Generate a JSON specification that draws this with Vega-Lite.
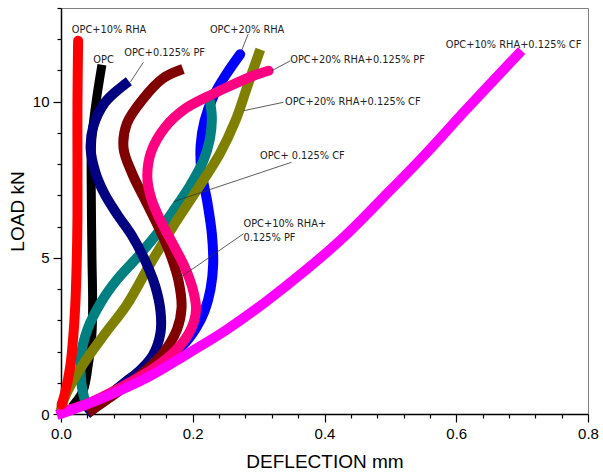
{
  "$schema": "https://vega.github.io/schema/vega-lite/v6.json",
  "width": 527,
  "height": 406,
  "autosize": "none",
  "padding": {"left": 61, "top": 8, "right": 15, "bottom": 60},
  "background": "white",
  "config": {
    "view": {"stroke": "#808080", "strokeWidth": 1},
    "axis": {
      "grid": false,
      "domainColor": "black",
      "domainWidth": 1.5,
      "tickColor": "black",
      "tickWidth": 1.2,
      "labelColor": "black",
      "titleColor": "black",
      "labelFont": "Liberation Sans",
      "titleFont": "Liberation Sans",
      "labelFontSize": 15,
      "titleFontSize": 19,
      "titleFontWeight": "normal",
      "labelOverlap": false,
      "labelFlush": false
    }
  },
  "datasets": {
    "curves": [
      {"s": "b", "i": 0, "x": 0.047, "y": 0.13},
      {"s": "b", "i": 1, "x": 0.075, "y": 0.62},
      {"s": "b", "i": 2, "x": 0.11, "y": 1.1},
      {"s": "b", "i": 3, "x": 0.15, "y": 1.65},
      {"s": "b", "i": 4, "x": 0.185, "y": 2.2},
      {"s": "b", "i": 5, "x": 0.205, "y": 2.75},
      {"s": "b", "i": 6, "x": 0.218, "y": 3.3},
      {"s": "b", "i": 7, "x": 0.227, "y": 4.0},
      {"s": "b", "i": 8, "x": 0.231, "y": 4.8},
      {"s": "b", "i": 9, "x": 0.229, "y": 5.77},
      {"s": "b", "i": 10, "x": 0.222, "y": 6.8},
      {"s": "b", "i": 11, "x": 0.213, "y": 7.8},
      {"s": "b", "i": 12, "x": 0.212, "y": 8.6},
      {"s": "b", "i": 13, "x": 0.218, "y": 9.4},
      {"s": "b", "i": 14, "x": 0.232, "y": 10.2},
      {"s": "b", "i": 15, "x": 0.25, "y": 10.85},
      {"s": "b", "i": 16, "x": 0.272, "y": 11.52},

      {"s": "k", "i": 0, "x": 0.021, "y": 0.34},
      {"s": "k", "i": 1, "x": 0.034, "y": 0.77},
      {"s": "k", "i": 2, "x": 0.041, "y": 1.51},
      {"s": "k", "i": 3, "x": 0.047, "y": 2.58},
      {"s": "k", "i": 4, "x": 0.048, "y": 3.6},
      {"s": "k", "i": 5, "x": 0.047, "y": 5},
      {"s": "k", "i": 6, "x": 0.046, "y": 7},
      {"s": "k", "i": 7, "x": 0.046, "y": 8.5},
      {"s": "k", "i": 8, "x": 0.048, "y": 9.1},
      {"s": "k", "i": 9, "x": 0.054, "y": 10.1},
      {"s": "k", "i": 10, "x": 0.061, "y": 11.04},

      {"s": "t", "i": 0, "x": 0.036, "y": 0.45},
      {"s": "t", "i": 1, "x": 0.031, "y": 0.98},
      {"s": "t", "i": 2, "x": 0.03, "y": 1.83},
      {"s": "t", "i": 3, "x": 0.04, "y": 2.7},
      {"s": "t", "i": 4, "x": 0.06, "y": 3.55},
      {"s": "t", "i": 5, "x": 0.085, "y": 4.3},
      {"s": "t", "i": 6, "x": 0.115, "y": 5.0},
      {"s": "t", "i": 7, "x": 0.145, "y": 5.75},
      {"s": "t", "i": 8, "x": 0.172, "y": 6.55},
      {"s": "t", "i": 9, "x": 0.197, "y": 7.35},
      {"s": "t", "i": 10, "x": 0.216, "y": 8.1},
      {"s": "t", "i": 11, "x": 0.226, "y": 8.8},
      {"s": "t", "i": 12, "x": 0.229, "y": 9.5},
      {"s": "t", "i": 13, "x": 0.226, "y": 10.03},

      {"s": "o", "i": 0, "x": 0.001, "y": 0.23},
      {"s": "o", "i": 1, "x": 0.006, "y": 0.55},
      {"s": "o", "i": 2, "x": 0.031, "y": 1.51},
      {"s": "o", "i": 3, "x": 0.066, "y": 2.55},
      {"s": "o", "i": 4, "x": 0.1, "y": 3.5},
      {"s": "o", "i": 5, "x": 0.134, "y": 4.75},
      {"s": "o", "i": 6, "x": 0.17, "y": 6.0},
      {"s": "o", "i": 7, "x": 0.206, "y": 7.16},
      {"s": "o", "i": 8, "x": 0.241, "y": 8.33},
      {"s": "o", "i": 9, "x": 0.265, "y": 9.4},
      {"s": "o", "i": 10, "x": 0.283, "y": 10.5},
      {"s": "o", "i": 11, "x": 0.3, "y": 11.52},

      {"s": "n", "i": 0, "x": 0.045, "y": 0.1},
      {"s": "n", "i": 1, "x": 0.07, "y": 0.55},
      {"s": "n", "i": 2, "x": 0.095, "y": 0.98},
      {"s": "n", "i": 3, "x": 0.12, "y": 1.4},
      {"s": "n", "i": 4, "x": 0.14, "y": 1.9},
      {"s": "n", "i": 5, "x": 0.151, "y": 2.6},
      {"s": "n", "i": 6, "x": 0.151, "y": 3.3},
      {"s": "n", "i": 7, "x": 0.143, "y": 4.1},
      {"s": "n", "i": 8, "x": 0.128, "y": 4.9},
      {"s": "n", "i": 9, "x": 0.108, "y": 5.7},
      {"s": "n", "i": 10, "x": 0.085, "y": 6.4},
      {"s": "n", "i": 11, "x": 0.066, "y": 7.05},
      {"s": "n", "i": 12, "x": 0.052, "y": 7.75},
      {"s": "n", "i": 13, "x": 0.045, "y": 8.5},
      {"s": "n", "i": 14, "x": 0.049, "y": 9.2},
      {"s": "n", "i": 15, "x": 0.067, "y": 9.98},
      {"s": "n", "i": 16, "x": 0.097, "y": 10.56},

      {"s": "m", "i": 0, "x": 0.047, "y": 0.13},
      {"s": "m", "i": 1, "x": 0.07, "y": 0.47},
      {"s": "m", "i": 2, "x": 0.117, "y": 1.19},
      {"s": "m", "i": 3, "x": 0.155, "y": 1.95},
      {"s": "m", "i": 4, "x": 0.176, "y": 2.7},
      {"s": "m", "i": 5, "x": 0.183, "y": 3.4},
      {"s": "m", "i": 6, "x": 0.179, "y": 4.2},
      {"s": "m", "i": 7, "x": 0.168, "y": 5.0},
      {"s": "m", "i": 8, "x": 0.15, "y": 5.9},
      {"s": "m", "i": 9, "x": 0.128, "y": 6.84},
      {"s": "m", "i": 10, "x": 0.108, "y": 7.7},
      {"s": "m", "i": 11, "x": 0.095, "y": 8.5},
      {"s": "m", "i": 12, "x": 0.1, "y": 9.3},
      {"s": "m", "i": 13, "x": 0.125, "y": 10.1},
      {"s": "m", "i": 14, "x": 0.155, "y": 10.75},
      {"s": "m", "i": 15, "x": 0.178, "y": 10.99},

      {"s": "p", "i": 0, "x": 0.001, "y": 0.07},
      {"s": "p", "i": 1, "x": 0.041, "y": 0.34},
      {"s": "p", "i": 2, "x": 0.092, "y": 0.87},
      {"s": "p", "i": 3, "x": 0.14, "y": 1.45},
      {"s": "p", "i": 4, "x": 0.175, "y": 2.05},
      {"s": "p", "i": 5, "x": 0.197, "y": 2.7},
      {"s": "p", "i": 6, "x": 0.205, "y": 3.35},
      {"s": "p", "i": 7, "x": 0.2, "y": 4.0},
      {"s": "p", "i": 8, "x": 0.188, "y": 4.7},
      {"s": "p", "i": 9, "x": 0.171, "y": 5.4},
      {"s": "p", "i": 10, "x": 0.152, "y": 6.15},
      {"s": "p", "i": 11, "x": 0.137, "y": 6.9},
      {"s": "p", "i": 12, "x": 0.131, "y": 7.6},
      {"s": "p", "i": 13, "x": 0.137, "y": 8.4},
      {"s": "p", "i": 14, "x": 0.158, "y": 9.18},
      {"s": "p", "i": 15, "x": 0.188, "y": 9.77},
      {"s": "p", "i": 16, "x": 0.231, "y": 10.25},
      {"s": "p", "i": 17, "x": 0.257, "y": 10.51},
      {"s": "p", "i": 18, "x": 0.292, "y": 10.83},
      {"s": "p", "i": 19, "x": 0.315, "y": 10.99},

      {"s": "g", "i": 0, "x": 0.001, "y": 0.02},
      {"s": "g", "i": 1, "x": 0.016, "y": 0.13},
      {"s": "g", "i": 2, "x": 0.067, "y": 0.55},
      {"s": "g", "i": 3, "x": 0.133, "y": 1.19},
      {"s": "g", "i": 4, "x": 0.193, "y": 1.94},
      {"s": "g", "i": 5, "x": 0.25, "y": 2.68},
      {"s": "g", "i": 6, "x": 0.31, "y": 3.58},
      {"s": "g", "i": 7, "x": 0.37, "y": 4.58},
      {"s": "g", "i": 8, "x": 0.43, "y": 5.68},
      {"s": "g", "i": 9, "x": 0.49, "y": 6.95},
      {"s": "g", "i": 10, "x": 0.55, "y": 8.25},
      {"s": "g", "i": 11, "x": 0.616, "y": 9.77},
      {"s": "g", "i": 12, "x": 0.694, "y": 11.52},

      {"s": "r", "i": 0, "x": 0.001, "y": 0.3},
      {"s": "r", "i": 1, "x": 0.006, "y": 0.66},
      {"s": "r", "i": 2, "x": 0.014, "y": 1.51},
      {"s": "r", "i": 3, "x": 0.019, "y": 2.58},
      {"s": "r", "i": 4, "x": 0.022, "y": 3.64},
      {"s": "r", "i": 5, "x": 0.024, "y": 5},
      {"s": "r", "i": 6, "x": 0.025, "y": 6.3},
      {"s": "r", "i": 7, "x": 0.025, "y": 8},
      {"s": "r", "i": 8, "x": 0.025, "y": 10},
      {"s": "r", "i": 9, "x": 0.026, "y": 11.95}
    ],
    "labels": [
      {"t": "OPC+10% RHA", "x": 0.0165, "y": 12.3},
      {"t": "OPC", "x": 0.049, "y": 11.33},
      {"t": "OPC+0.125% PF", "x": 0.096, "y": 11.55},
      {"t": "OPC+20% RHA", "x": 0.226, "y": 12.29},
      {"t": "OPC+20% RHA+0.125% PF", "x": 0.348, "y": 11.33},
      {"t": "OPC+20% RHA+0.125% CF", "x": 0.34, "y": 10.0},
      {"t": "OPC+ 0.125% CF", "x": 0.302, "y": 8.25},
      {"t": "OPC+10% RHA+", "x": 0.277, "y": 6.07},
      {"t": "0.125% PF", "x": 0.277, "y": 5.65},
      {"t": "OPC+10% RHA+0.125% CF", "x": 0.584, "y": 11.82}
    ],
    "leaders": [
      {"x": 0.125, "y": 11.26, "x2": 0.105, "y2": 10.62},
      {"x": 0.284, "y": 12.16, "x2": 0.274, "y2": 11.63},
      {"x": 0.348, "y": 11.31, "x2": 0.32, "y2": 10.99},
      {"x": 0.3375, "y": 9.98, "x2": 0.277, "y2": 9.71},
      {"x": 0.35, "y": 8.06, "x2": 0.171, "y2": 6.8},
      {"x": 0.277, "y": 5.77, "x2": 0.176, "y2": 4.3}
    ]
  },
  "encoding": {
    "x": {
      "field": "x",
      "type": "quantitative",
      "scale": {"domain": [0, 0.8], "nice": false, "zero": false},
      "axis": {
        "title": "DEFLECTION mm",
        "values": [0, 0.04, 0.08, 0.12, 0.16, 0.2, 0.24, 0.28, 0.32, 0.36, 0.4, 0.44, 0.48, 0.52, 0.56, 0.6, 0.64, 0.68, 0.72, 0.76, 0.8],
        "labelExpr": "abs(datum.value*5-round(datum.value*5))<0.001 ? format(datum.value,'.1f') : ''",
        "tickSize": {"condition": {"test": "abs(datum.value*5-round(datum.value*5))<0.001", "value": 8}, "value": 4},
        "labelPadding": 4,
        "titlePadding": 11
      }
    },
    "y": {
      "field": "y",
      "type": "quantitative",
      "scale": {"domain": [0, 13], "nice": false, "zero": false},
      "axis": {
        "title": "LOAD kN",
        "values": [0, 1, 2, 3, 4, 5, 6, 7, 8, 9, 10, 11, 12, 13],
        "labelExpr": "datum.value % 5 === 0 ? datum.value : ''",
        "tickSize": {"condition": {"test": "datum.value % 5 === 0", "value": 8}, "value": 4},
        "labelPadding": 4,
        "titlePadding": 5
      }
    }
  },
  "layer": [
    {"data": {"name": "curves"}, "transform": [{"filter": "datum.s === 'b'"}], "mark": {"type": "line", "color": "#0000FF", "strokeWidth": 10, "strokeCap": "round", "strokeJoin": "round", "interpolate": "catmull-rom"}, "encoding": {"order": {"field": "i", "type": "quantitative"}}},
    {"data": {"name": "curves"}, "transform": [{"filter": "datum.s === 'k'"}], "mark": {"type": "line", "color": "#000000", "strokeWidth": 9, "strokeCap": "square", "strokeJoin": "round", "interpolate": "catmull-rom"}, "encoding": {"order": {"field": "i", "type": "quantitative"}}},
    {"data": {"name": "curves"}, "transform": [{"filter": "datum.s === 't'"}], "mark": {"type": "line", "color": "#008080", "strokeWidth": 10, "strokeCap": "round", "strokeJoin": "round", "interpolate": "catmull-rom"}, "encoding": {"order": {"field": "i", "type": "quantitative"}}},
    {"data": {"name": "curves"}, "transform": [{"filter": "datum.s === 'o'"}], "mark": {"type": "line", "color": "#808000", "strokeWidth": 10, "strokeCap": "square", "strokeJoin": "round", "interpolate": "catmull-rom"}, "encoding": {"order": {"field": "i", "type": "quantitative"}}},
    {"data": {"name": "curves"}, "transform": [{"filter": "datum.s === 'n'"}], "mark": {"type": "line", "color": "#000080", "strokeWidth": 10, "strokeCap": "square", "strokeJoin": "round", "interpolate": "catmull-rom"}, "encoding": {"order": {"field": "i", "type": "quantitative"}}},
    {"data": {"name": "curves"}, "transform": [{"filter": "datum.s === 'm'"}], "mark": {"type": "line", "color": "#800000", "strokeWidth": 10, "strokeCap": "square", "strokeJoin": "round", "interpolate": "catmull-rom"}, "encoding": {"order": {"field": "i", "type": "quantitative"}}},
    {"data": {"name": "curves"}, "transform": [{"filter": "datum.s === 'p'"}], "mark": {"type": "line", "color": "#FF0080", "strokeWidth": 10, "strokeCap": "round", "strokeJoin": "round", "interpolate": "catmull-rom"}, "encoding": {"order": {"field": "i", "type": "quantitative"}}},
    {"data": {"name": "curves"}, "transform": [{"filter": "datum.s === 'g'"}], "mark": {"type": "line", "color": "#FF00FF", "strokeWidth": 10, "strokeCap": "square", "strokeJoin": "round", "interpolate": "catmull-rom"}, "encoding": {"order": {"field": "i", "type": "quantitative"}}},
    {"data": {"name": "curves"}, "transform": [{"filter": "datum.s === 'r'"}], "mark": {"type": "line", "color": "#FF0000", "strokeWidth": 10, "strokeCap": "round", "strokeJoin": "round", "interpolate": "catmull-rom"}, "encoding": {"order": {"field": "i", "type": "quantitative"}}},
    {"data": {"name": "leaders"}, "mark": {"type": "rule", "color": "#333333", "strokeWidth": 0.8}, "encoding": {"x2": {"field": "x2"}, "y2": {"field": "y2"}}},
    {"data": {"name": "labels"}, "mark": {"type": "text", "align": "left", "baseline": "middle", "font": "DejaVu Sans", "fontSize": 9.8, "color": "#222222"}, "encoding": {"text": {"field": "t"}}}
  ]
}
